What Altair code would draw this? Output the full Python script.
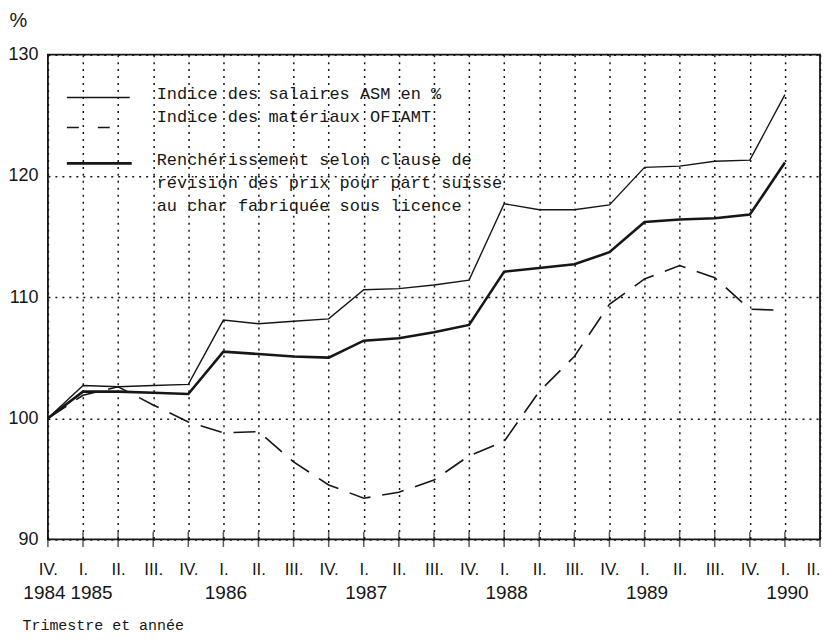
import json
import altair as alt
import pandas as pd

# ---------------- data ----------------
quarter_idx = list(range(23))
quarter_labels = ["IV.",
                  "I.", "II.", "III.", "IV.",
                  "I.", "II.", "III.", "IV.",
                  "I.", "II.", "III.", "IV.",
                  "I.", "II.", "III.", "IV.",
                  "I.", "II.", "III.", "IV.",
                  "I.", "II."]
year_labels = ["1984", "1985", "", "", "", "1986", "", "", "", "1987", "", "", "",
               "1988", "", "", "", "1989", "", "", "", "1990", ""]
year_ticks = [0, 1, 5, 9, 13, 17, 21]

point_idx = list(range(22))
salaires = [100, 102.7, 102.6, 102.7, 102.8, 108.1, 107.8, 108.0, 108.2, 110.6, 110.7,
            111.0, 111.4, 117.7, 117.2, 117.2, 117.6, 120.7, 120.8, 121.2, 121.3, 126.7]
materiaux = [100, 101.9, 102.6, 101.1, 99.7, 98.8, 98.9, 96.4, 94.5, 93.4, 93.9,
             94.9, 96.9, 98.1, 102.2, 105.1, 109.4, 111.5, 112.6, 111.6, 109.0, 108.9]
rencherissement = [100, 102.2, 102.2, 102.1, 102.0, 105.5, 105.3, 105.1, 105.0, 106.4, 106.6,
                   107.1, 107.7, 112.1, 112.4, 112.7, 113.7, 116.2, 116.4, 116.5, 116.8, 121.1]

y_ticks = [90, 100, 110, 120, 130]

legend_texts = ["Indice des salaires ASM en %",
                "Indice des matériaux OFIAMT",
                "Renchérissement selon clause de",
                "révision des prix pour part suisse",
                "au char fabriquée sous licence"]

df = pd.DataFrame({"idx": point_idx, "salaires": salaires,
                   "materiaux": materiaux, "rench": rencherissement})
df_ticks = pd.DataFrame({"q": quarter_idx, "base": [90] * len(quarter_idx)})
one = pd.DataFrame({"a": [0]})

# ---------------- styling ----------------
INK = "#161616"
MONO = "Liberation Mono"
SANS = "Liberation Sans"

x_scale = alt.Scale(domain=[0, 22], nice=False, zero=False)
y_scale = alt.Scale(domain=[90, 130], nice=False, zero=False)

roman_axis = alt.Axis(
    values=quarter_idx,
    labelExpr=json.dumps(quarter_labels) + "[datum.value]",
    grid=True, gridDash=[2, 5], gridColor=INK, gridWidth=1.5,
    ticks=False, domain=False,
    labelPadding=22, labelFontSize=17, labelFont=SANS, labelColor=INK,
    labelOverlap=False, labelFlush=False,
    labelAlign={"condition": {"test": "datum.value == 22", "value": "right"}, "value": "center"},
    title="Trimestre et année", titleFont=MONO, titleFontSize=15,
    titleFontWeight="normal", titleColor=INK,
    titleAnchor="start", titleAlign="left", titleBaseline="middle",
    titleX=-26, titleY=85,
)

year_axis = alt.Axis(
    values=year_ticks,
    labelExpr=json.dumps(year_labels) + "[datum.value]",
    grid=False, ticks=False, domain=False,
    labelPadding=44, labelFontSize=19, labelFont=SANS, labelColor=INK,
    labelOverlap=False, labelFlush=False,
    labelOffset={"condition": [{"test": "datum.value == 0", "value": -4},
                               {"test": "datum.value == 1", "value": 8}],
                 "value": 2},
    orient="bottom", title=None,
)

y_axis = alt.Axis(
    values=y_ticks,
    grid=True, gridDash=[2, 5], gridColor=INK, gridWidth=1.5,
    ticks=False, domain=False,
    labelPadding=10, labelFontSize=18, labelFont=SANS, labelColor=INK,
    labelFlush=False,
    title="%", titleAngle=0, titleFont=SANS, titleFontSize=20,
    titleFontWeight="normal", titleColor=INK,
    titleAlign="left", titleBaseline="middle", titleX=-39, titleY=-34,
)

base = alt.Chart(df)

thin = base.mark_line(color=INK, strokeWidth=1.4).encode(
    x=alt.X("idx:Q", scale=x_scale, axis=roman_axis),
    y=alt.Y("salaires:Q", scale=y_scale, axis=y_axis),
)
dashed = base.mark_line(color=INK, strokeWidth=1.6, strokeDash=[22, 12]).encode(
    x=alt.X("idx:Q", scale=x_scale, axis=None),
    y=alt.Y("materiaux:Q", scale=y_scale),
)
thick = base.mark_line(color=INK, strokeWidth=2.6).encode(
    x=alt.X("idx:Q", scale=x_scale, axis=None),
    y=alt.Y("rench:Q", scale=y_scale),
)

ticks = alt.Chart(df_ticks).mark_tick(orient="vertical", size=15, thickness=1.5, color=INK).encode(
    x=alt.X("q:Q", scale=x_scale, axis=year_axis),
    y=alt.Y("base:Q", scale=y_scale),
)

# ---------------- in-plot legend ----------------
leg_thin = alt.Chart(one).mark_rule(color=INK, strokeWidth=1.4).encode(
    x=alt.value(19), x2=alt.value(82), y=alt.value(43))
leg_dash = alt.Chart(one).mark_rule(color=INK, strokeWidth=1.6, strokeDash=[12, 19]).encode(
    x=alt.value(19), x2=alt.value(71), y=alt.value(73))
leg_thick = alt.Chart(one).mark_rule(color=INK, strokeWidth=2.6).encode(
    x=alt.value(19), x2=alt.value(84), y=alt.value(109))

text_y = [39, 63, 106, 129, 152]
leg_texts = [
    alt.Chart(one).mark_text(font=MONO, fontSize=17, color=INK, align="left",
                             baseline="middle").encode(
        x=alt.value(109), y=alt.value(ty), text=alt.value(t))
    for t, ty in zip(legend_texts, text_y)
]

chart = alt.layer(thin, dashed, thick, ticks, leg_thin, leg_dash, leg_thick, *leg_texts).resolve_axis(
    x="independent"
).properties(
    width=774, height=486,
    autosize=alt.AutoSizeParams(type="none"),
    padding={"left": 40, "top": 46, "right": 5, "bottom": 98},
).configure(background="white").configure_view(stroke=INK, strokeWidth=1.8)

chart.save("out.html", embed_options={"renderer": "svg", "actions": False})
